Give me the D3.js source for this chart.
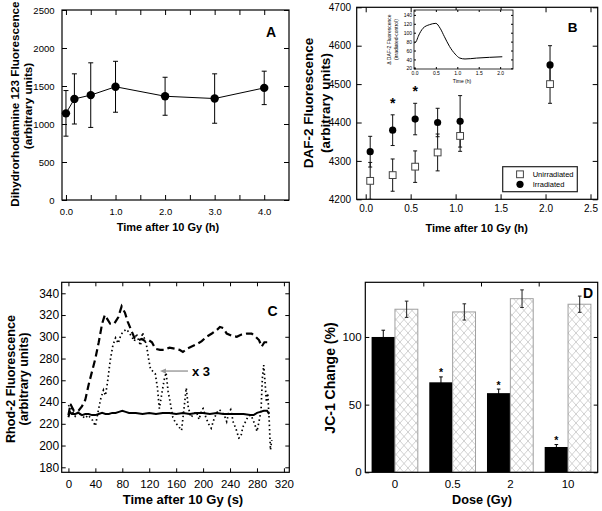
<!DOCTYPE html>
<html><head><meta charset="utf-8">
<script src="https://cdn.jsdelivr.net/npm/d3@7"></script>
<style>body{margin:0;background:#fff}svg{display:block}text{font-family:"Liberation Sans",Arial,Helvetica,sans-serif;fill:#000}</style>
</head><body><svg id="c" width="602" height="511"></svg>
<script>
// ---------- Panel A data ----------
const aTime = [0.0, 0.17, 0.5, 1.0, 2.0, 3.0, 4.0];
const aValue = [1140, 1330, 1380, 1490, 1365, 1335, 1475];
const aError = [300, 330, 425, 335, 250, 325, 220];
const aXTicks = [0, 0.5, 1, 1.5, 2, 2.5, 3, 3.5, 4];
const aYTicks = [0, 500, 1000, 1500, 2000, 2500];

// ---------- Panel B data ----------
const bTime = [0.05, 0.30, 0.55, 0.80, 1.05, 2.05];
const bUnirr = [4248, 4263, 4285, 4322, 4365, 4500];
const bUnirrErr = [48, 42, 41, 48, 40, 50];
const bIrr = [4324, 4380, 4409, 4400, 4403, 4550];
const bIrrErr = [40, 40, 41, 37, 67, 50];
const bSignificant = [false, true, true, false, false, false];
const bXTicks = [0, 0.5, 1, 1.5, 2, 2.5];
const bYTicks = [4200, 4300, 4400, 4500, 4600, 4700];
const bLegend = ["Unirradiated", "Irradiated"];
// inset
const insetTime = [0.0, 0.04, 0.09, 0.2, 0.35, 0.5, 0.6, 0.7, 0.82, 0.95, 1.06, 1.18, 1.45, 2.05];
const insetDelta = [77, 80, 92, 110, 118, 121, 110, 91, 69, 52, 43, 41, 43, 46];
const insetXTicks = [0, 0.5, 1, 1.5, 2];
const insetYTicks = [20, 40, 60, 80, 100, 120, 140];

// ---------- Panel C data ----------
const cSolidTime = [0, 2, 5, 10, 15, 20, 25, 30, 35, 40, 45, 50, 55, 60, 65, 70, 75, 80, 85, 90, 100, 110, 120, 130, 140, 150, 160, 170, 180, 190, 200, 210, 220, 230, 240, 250, 260, 270, 275, 280, 285, 290, 295, 298];
const cSolidValue = [226, 231, 229, 229, 230, 228, 229, 229, 228, 228, 229, 230, 229, 229, 230, 230, 231, 232, 231, 230, 230, 229, 230, 229, 230, 230, 229, 230, 229, 230, 230, 229, 230, 229, 229, 229, 229, 228, 228, 230, 231, 232, 232, 229];
const cDashedTime = [0, 3, 8, 15, 20, 25, 30, 35, 40, 45, 50, 54, 58, 62, 68, 74, 79, 84, 88, 92, 98, 104, 109, 114, 119, 124, 129, 136, 143, 150, 158, 165, 170, 176, 183, 190, 198, 205, 213, 220, 225, 230, 235, 242, 250, 257, 265, 272, 278, 283, 287, 291, 295, 298];
const cDashedValue = [228, 238, 232, 232, 236, 242, 256, 268, 280, 295, 312, 320, 316, 312, 312, 318, 328, 322, 314, 308, 299, 297, 298, 296, 297, 295, 289, 288, 288, 290, 289, 288, 286, 289, 291, 293, 296, 300, 303, 306, 309, 308, 303, 301, 300, 302, 303, 303, 300, 297, 291, 295, 295, 295];
const cDottedTime = [0, 3, 6, 10, 14, 17, 21, 25, 29, 32, 36, 40, 44, 48, 52, 55, 58, 62, 66, 70, 74, 78, 82, 86, 90, 94, 98, 101, 104, 107, 110, 113, 116, 119, 122, 126, 129, 132, 135, 138, 142, 145, 148, 151, 155, 159, 163, 168, 172, 175, 178, 182, 186, 190, 194, 198, 200, 204, 208, 212, 216, 220, 224, 228, 232, 235, 238, 241, 245, 249, 253, 256, 259, 263, 267, 271, 274, 277, 280, 283, 286, 288, 290, 292, 294, 296, 298, 300, 302];
const cDottedValue = [236, 239, 231, 227, 231, 229, 227, 225, 228, 226, 223, 218, 231, 243, 251, 246, 258, 278, 292, 299, 294, 302, 305, 307, 304, 300, 296, 303, 297, 292, 304, 298, 292, 280, 270, 268, 266, 254, 234, 245, 260, 267, 250, 240, 226, 221, 218, 214, 236, 253, 235, 226, 229, 231, 224, 233, 234, 226, 220, 216, 224, 230, 233, 231, 227, 222, 230, 233, 221, 215, 207, 208, 217, 222, 227, 228, 224, 219, 213, 222, 232, 262, 274, 258, 240, 248, 225, 196, 205];
const cXTicks = [0, 40, 80, 120, 160, 200, 240, 280, 320];
const cYTicks = [180, 200, 220, 240, 260, 280, 300, 320, 340];

// ---------- Panel D data ----------
const dDose = ["0", "0.5", "2", "10"];
const dBlack = [100, 66.5, 58.5, 18.7];
const dBlackErr = [5, 4, 3, 1.8];
const dBlackSignificant = [false, true, true, true];
const dHatch = [120.5, 118.5, 128.3, 124.2];
const dHatchErr = [6, 6, 6.5, 6];
const dYTicks = [0, 50, 100];

// ---------------------------------------------------
const svg = d3.select("#c");
const FONT = '"Liberation Sans",Arial,Helvetica,sans-serif';

function styleAxis(g, fs) {
  g.select(".domain").remove();
  g.selectAll(".tick line").attr("stroke", "#000").attr("stroke-width", 1);
  g.selectAll(".tick text").attr("font-size", fs).attr("fill", "#000").attr("font-family", FONT);
  return g;
}
function frame(x0, y0, x1, y1, sw) {
  svg.append("rect").attr("x", x0).attr("y", y0).attr("width", x1 - x0).attr("height", y1 - y0)
    .attr("fill", "none").attr("stroke", "#000").attr("stroke-width", sw || 1.2);
}
function boxAxes(x, y, o) {
  const [x0, x1] = x.range(), [y1, y0] = y.range();
  const ts = o.ts || 5;
  const b = svg.append("g").attr("transform", `translate(0,${y1})`)
    .call(d3.axisBottom(x).tickValues(o.xt).tickFormat(o.xf).tickSize(-ts).tickSizeOuter(0).tickPadding(o.xp));
  styleAxis(b, o.xfs);
  const t = svg.append("g").attr("transform", `translate(0,${y0})`)
    .call(d3.axisTop(x).tickValues(o.xt).tickFormat("").tickSize(-ts).tickSizeOuter(0));
  styleAxis(t, o.xfs);
  const l = svg.append("g").attr("transform", `translate(${x0},0)`)
    .call(d3.axisLeft(y).tickValues(o.yt).tickFormat(o.yf).tickSize(-ts).tickSizeOuter(0).tickPadding(o.yp));
  styleAxis(l, o.yfs);
  const r = svg.append("g").attr("transform", `translate(${x1},0)`)
    .call(d3.axisRight(y).tickValues(o.yt).tickFormat("").tickSize(-ts).tickSizeOuter(0));
  styleAxis(r, o.yfs);
  frame(x0, y0, x1, y1, o.sw);
}
function txt(x, y, s, fs, opts) {
  opts = opts || {};
  const t = svg.append("text").attr("x", x).attr("y", y).text(s)
    .attr("font-size", fs).attr("font-weight", opts.bold ? "bold" : "normal")
    .attr("text-anchor", opts.anchor || "middle").attr("fill", opts.fill || "#000");
  if (opts.central) t.attr("dominant-baseline", "central");
  if (opts.rot) t.attr("transform", `rotate(-90,${x},${y})`);
  return t;
}
function errBar(x, yTop, yBot, cap, color, sw) {
  const g = svg.append("g").attr("stroke", color || "#000").attr("stroke-width", sw || 1);
  g.append("line").attr("x1", x).attr("x2", x).attr("y1", yTop).attr("y2", yBot);
  g.append("line").attr("x1", x - cap).attr("x2", x + cap).attr("y1", yTop).attr("y2", yTop);
  g.append("line").attr("x1", x - cap).attr("x2", x + cap).attr("y1", yBot).attr("y2", yBot);
}

// ================= Panel A =================
{
  const x = d3.scaleLinear().domain([-0.08, 4.5]).range([62, 289]);
  const y = d3.scaleLinear().domain([0, 2500]).range([200, 10]);
  boxAxes(x, y, { xt: aXTicks, xf: d => (d % 1 === 0 ? d3.format(".1f")(d) : ""), xp: 8, xfs: 9.5,
    yt: aYTicks, yf: d3.format("d"), yp: 7.5, yfs: 9.5 });
  const pts = aTime.map((t, i) => [t, aValue[i], aError[i]]);
  pts.forEach(p => errBar(x(p[0]), y(p[1] + p[2]), y(p[1] - p[2]), 2.5));
  svg.append("path").datum(pts).attr("fill", "none").attr("stroke", "#000").attr("stroke-width", 1)
    .attr("d", d3.line().x(d => x(d[0])).y(d => y(d[1])));
  svg.selectAll(null).data(pts).enter().append("circle")
    .attr("cx", d => x(d[0])).attr("cy", d => y(d[1])).attr("r", 4.2).attr("fill", "#000");
  txt(271, 36.7, "A", 14, { bold: true });
  txt(168, 226.5, "Time after 10 Gy (h)", 11, { bold: true, central: true });
  txt(14, 104, "Dihydrorhodamine 123 Fluorescence", 11.7, { bold: true, central: true, rot: true });
  txt(27.5, 106, "(arbitrary units)", 11.7, { bold: true, central: true, rot: true });
}

// ================= Panel B =================
{
  const x = d3.scaleLinear().domain([-0.1, 2.58]).range([356.7, 597.7]);
  const y = d3.scaleLinear().domain([4200, 4700]).range([199.3, 7.3]);
  boxAxes(x, y, { xt: bXTicks, xf: d3.format(".1f"), xp: 5.3, xfs: 10,
    yt: bYTicks, yf: d3.format("d"), yp: 5.7, yfs: 10 });
  const clipId = "clipB";
  svg.append("clipPath").attr("id", clipId).append("rect")
    .attr("x", 356.7).attr("y", 7.3).attr("width", 241).attr("height", 192);
  const gB = svg.append("g").attr("clip-path", `url(#${clipId})`);
  const un = bTime.map((t, i) => [t, bUnirr[i], bUnirrErr[i]]);
  const ir = bTime.map((t, i) => [t, bIrr[i], bIrrErr[i]]);
  [...un, ...ir].forEach(p => {
    const g = gB.append("g").attr("stroke", "#111").attr("stroke-width", 1);
    const cx = x(p[0]), yt = y(p[1] + p[2]), yb = y(p[1] - p[2]);
    g.append("line").attr("x1", cx).attr("x2", cx).attr("y1", yt).attr("y2", yb);
    g.append("line").attr("x1", cx - 2).attr("x2", cx + 2).attr("y1", yt).attr("y2", yt);
    g.append("line").attr("x1", cx - 2).attr("x2", cx + 2).attr("y1", yb).attr("y2", yb);
  });
  gB.selectAll(null).data(un).enter().append("rect")
    .attr("x", d => x(d[0]) - 3.4).attr("y", d => y(d[1]) - 3.4).attr("width", 6.8).attr("height", 6.8)
    .attr("fill", "#fff").attr("stroke", "#444").attr("stroke-width", 1);
  gB.selectAll(null).data(ir).enter().append("circle")
    .attr("cx", d => x(d[0])).attr("cy", d => y(d[1])).attr("r", 3.6).attr("fill", "#000");
  ir.forEach((p, i) => { if (bSignificant[i]) txt(x(p[0]), y(p[1] + p[2]) - 7, "*", 14, { bold: true }); });
  // legend
  svg.append("rect").attr("x", 502.7).attr("y", 166.7).attr("width", 74.6).attr("height", 25)
    .attr("fill", "#fff").attr("stroke", "#222").attr("stroke-width", 1.2);
  svg.append("rect").attr("x", 516.6).attr("y", 170.9).attr("width", 6.8).attr("height", 6.8)
    .attr("fill", "#fff").attr("stroke", "#444");
  svg.append("circle").attr("cx", 520).attr("cy", 184.3).attr("r", 3.6).attr("fill", "#000");
  txt(532.7, 174.3, bLegend[0], 7.5, { anchor: "start", central: true });
  txt(532.7, 184.6, bLegend[1], 7.5, { anchor: "start", central: true });
  txt(572.7, 31.7, "B", 13.5, { bold: true });
  txt(476.7, 228, "Time after 10 Gy (h)", 11, { bold: true, central: true });
  txt(308.5, 103, "DAF-2 Fluorescence", 13.5, { bold: true, central: true, rot: true });
  txt(325, 103, "(arbitrary units)", 13.5, { bold: true, central: true, rot: true });

  // inset
  const xi = d3.scaleLinear().domain([-0.01, 2.3]).range([414, 513]);
  const yi = d3.scaleLinear().domain([18.5, 151]).range([69, 10]);
  svg.append("rect").attr("x", 414).attr("y", 10).attr("width", 99).attr("height", 59).attr("fill", "#fff");
  boxAxes(xi, yi, { xt: insetXTicks, xf: d3.format(".1f"), xp: 2, xfs: 5, ts: 2,
    yt: insetYTicks, yf: d3.format("d"), yp: 2, yfs: 5, sw: 0.8 });
  svg.append("path").datum(insetTime.map((t, i) => [t, insetDelta[i]]))
    .attr("fill", "none").attr("stroke", "#000").attr("stroke-width", 1)
    .attr("d", d3.line().curve(d3.curveMonotoneX).x(d => xi(d[0])).y(d => yi(d[1])));
  txt(462, 80.5, "Time (h)", 5, { central: true });
  txt(388.5, 39.5, "\u0394 DAF-2 Fluorescence", 5, { central: true, rot: true });
  txt(395.5, 39.5, "(irradiated-control)", 5, { central: true, rot: true });
}

// ================= Panel C =================
{
  const x = d3.scaleLinear().domain([-10, 328]).range([61.7, 289.3]);
  const y = d3.scaleLinear().domain([175.4, 350.1]).range([472.3, 282.3]);
  boxAxes(x, y, { xt: cXTicks, xf: d3.format("d"), xp: 7.5, xfs: 11.5, ts: 4,
    yt: cYTicks, yf: d3.format("d"), yp: 2.5, yfs: 12 });
  const line = d3.line().x(d => x(d[0])).y(d => y(d[1]));
  svg.append("path").datum(cDottedTime.map((t, i) => [t, cDottedValue[i]]))
    .attr("fill", "none").attr("stroke", "#000").attr("stroke-width", 1.7)
    .attr("stroke-dasharray", "1.5,2.8").attr("d", line);
  svg.append("path").datum(cDashedTime.map((t, i) => [t, cDashedValue[i]]))
    .attr("fill", "none").attr("stroke", "#000").attr("stroke-width", 2.2)
    .attr("stroke-dasharray", "7.5,4").attr("d", line);
  svg.append("path").datum(cSolidTime.map((t, i) => [t, cSolidValue[i]]))
    .attr("fill", "none").attr("stroke", "#000").attr("stroke-width", 2).attr("d", line);
  // arrow "x 3"
  const ay = y(268.5), ax0 = x(136), ax1 = x(177.5);
  svg.append("line").attr("x1", ax0 + 4).attr("x2", ax1).attr("y1", ay).attr("y2", ay)
    .attr("stroke", "#999").attr("stroke-width", 1.4);
  svg.append("path").attr("d", `M${ax0},${ay} L${ax0 + 6},${ay - 2.6} L${ax0 + 6},${ay + 2.6} Z`).attr("fill", "#999");
  txt(x(183.5), ay, "x 3", 13, { bold: true, anchor: "start", central: true });
  txt(272.5, 316, "C", 14, { bold: true });
  txt(183, 499.5, "Time after 10 Gy (s)", 13, { bold: true, central: true });
  txt(11, 379, "Rhod-2 Fluorescence", 12.6, { bold: true, central: true, rot: true });
  txt(24, 379, "(arbitrary units)", 12.6, { bold: true, central: true, rot: true });
}

// ================= Panel D =================
{
  const x = d3.scaleBand().domain(dDose).range([365.3, 597.7]).paddingInner(0.19).paddingOuter(0.109);
  const y = d3.scaleLinear().domain([0, 140.4]).range([472.3, 282.3]);
  const defs = svg.append("defs");
  const pat = defs.append("pattern").attr("id", "hatchD").attr("patternUnits", "userSpaceOnUse")
    .attr("width", 8).attr("height", 9);
  pat.append("rect").attr("width", 8).attr("height", 9).attr("fill", "#fff");
  pat.append("path").attr("d", "M0,0 L8,9 M8,0 L0,9 M-1,8 L1,10 M7,-1 L9,1 M7,10 L9,8 M-1,1 L1,-1")
    .attr("stroke", "#c4c4c4").attr("stroke-width", 0.8).attr("fill", "none");
  const bw = x.bandwidth() / 2;
  dDose.forEach((d, i) => {
    const x0 = x(d);
    svg.append("rect").attr("x", x0).attr("y", y(dBlack[i])).attr("width", bw)
      .attr("height", y(0) - y(dBlack[i])).attr("fill", "#000");
    svg.append("rect").attr("x", x0 + bw).attr("y", y(dHatch[i])).attr("width", bw - 0.5)
      .attr("height", y(0) - y(dHatch[i])).attr("fill", "url(#hatchD)").attr("stroke", "#a0a0a0").attr("stroke-width", 1);
    errBar(x0 + bw / 2, y(dBlack[i] + dBlackErr[i]), y(dBlack[i] - dBlackErr[i]), 1.8, "#000", 1);
    errBar(x0 + bw * 1.5, y(dHatch[i] + dHatchErr[i]), y(dHatch[i] - dHatchErr[i]), 1.8, "#222", 1);
    if (dBlackSignificant[i]) txt(x0 + bw / 2, y(dBlack[i] + dBlackErr[i]) - 0.5, "*", 10.5, { bold: true });
  });
  const b = svg.append("g").attr("transform", `translate(0,472.3)`)
    .call(d3.axisBottom(x).tickSize(0).tickPadding(7.2));
  styleAxis(b, 11.5);
  const seps = dDose.slice(1).map(d => x(d) - x.step() * x.paddingInner() / 2);
  svg.selectAll(null).data(seps).enter().append("line")
    .attr("x1", d => d).attr("x2", d => d).attr("y1", 282.3).attr("y2", 286.5).attr("stroke", "#000");
  const l = svg.append("g").attr("transform", `translate(365.3,0)`)
    .call(d3.axisLeft(y).tickValues(dYTicks).tickSize(-4).tickSizeOuter(0).tickPadding(3.7));
  styleAxis(l, 11.5);
  const r = svg.append("g").attr("transform", `translate(597.7,0)`)
    .call(d3.axisRight(y).tickValues(dYTicks).tickFormat("").tickSize(-4).tickSizeOuter(0));
  styleAxis(r, 11.5);
  frame(365.3, 282.3, 597.7, 472.3, 1.2);
  txt(588, 298, "D", 14, { bold: true });
  txt(482, 499.5, "Dose (Gy)", 12.7, { bold: true, central: true });
  txt(330, 378, "JC-1 Change (%)", 14, { bold: true, central: true, rot: true });
}
</script></body></html>
